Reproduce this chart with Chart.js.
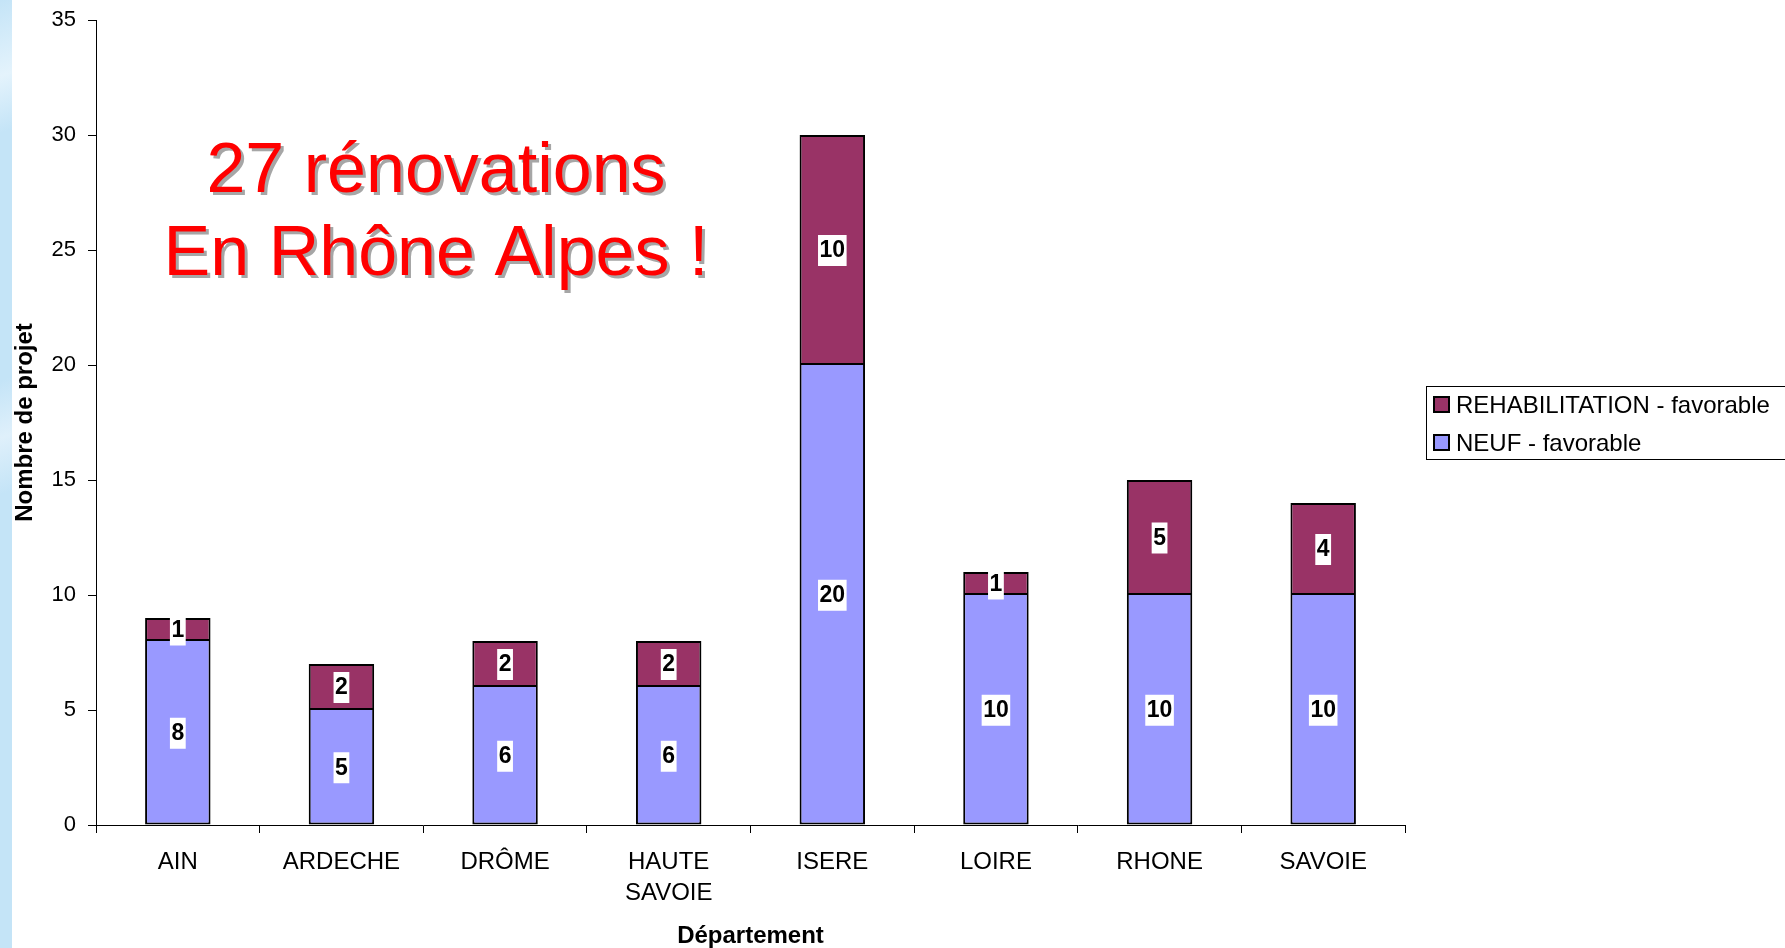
<!DOCTYPE html>
<html>
<head>
<meta charset="utf-8">
<script src="https://cdn.jsdelivr.net/npm/chart.js@4/dist/chart.umd.min.js"></script>
<style>
  body { margin: 0; background: #ffffff; }
  #wrap { position: relative; width: 1785px; height: 948px; }
  #strip {
    position: absolute; left: 0; top: 0; width: 12px; height: 948px;
    background: linear-gradient(160deg, #c4e4f7 0%, #e4f3fc 8%, #c4e4f7 14%, #c4e4f7 40%, #dff0fb 46%, #c4e4f7 52%, #c4e4f7 100%);
  }
  canvas { position: absolute; left: 0; top: 0; }
</style>
</head>
<body>
<div id="wrap">
  <div id="strip"></div>
  <canvas id="chart" width="1785" height="948"></canvas>
</div>
<script>
const departements = [
  "AIN",
  "ARDECHE",
  "DRÔME",
  ["HAUTE", "SAVOIE"],
  "ISERE",
  "LOIRE",
  "RHONE",
  "SAVOIE"
];

const neuf = [8, 5, 6, 6, 20, 10, 10, 10];
const rehabilitation = [1, 2, 2, 2, 10, 1, 5, 4];

const yTicks = [0, 5, 10, 15, 20, 25, 30, 35];

const FONT = "'Liberation Sans', Arial, sans-serif";

// value boxes in the middle of every segment
const valueLabels = {
  id: "valueLabels",
  afterDatasetsDraw(chart) {
    const c = chart.ctx;
    c.save();
    c.font = "bold 23px " + FONT;
    c.textAlign = "center";
    c.textBaseline = "middle";
    chart.data.datasets.forEach((ds, i) => {
      chart.getDatasetMeta(i).data.forEach((bar, j) => {
        const txt = String(ds.data[j]);
        const cy = (bar.y + bar.base) / 2;
        const w = c.measureText(txt).width + 3;
        c.fillStyle = "#ffffff";
        c.fillRect(bar.x - w / 2, cy - 15, w, 31);
        c.fillStyle = "#000000";
        c.fillText(txt, bar.x, cy + 1);
      });
    });
    c.restore();
  }
};

// big red headline inside the plot
const headline = {
  id: "headline",
  afterDraw(chart) {
    const c = chart.ctx;
    c.save();
    c.font = "70px " + FONT;
    c.textAlign = "center";
    c.textBaseline = "middle";
    const lines = [["27 rénovations", 173], ["En Rhône Alpes !", 256]];
    lines.forEach(([t, y]) => {
      c.fillStyle = "#a6a6a6";
      c.fillText(t, 439, y + 3);
      c.fillStyle = "#ff0000";
      c.fillText(t, 436, y);
    });
    c.restore();
  }
};

// boxed legend on the right, top entry = top segment
const sideLegend = {
  id: "sideLegend",
  afterDraw(chart) {
    const c = chart.ctx;
    c.save();
    c.strokeStyle = "#000000";
    c.lineWidth = 1;
    c.strokeRect(1426.5, 386.5, 400, 73);
    c.font = "24px " + FONT;
    c.textBaseline = "middle";
    const items = chart.data.datasets.slice().reverse();
    items.forEach((ds, k) => {
      const y = 405 + k * 38;
      c.fillStyle = ds.backgroundColor;
      c.fillRect(1434, y - 8, 15, 15);
      c.lineWidth = 2;
      c.strokeRect(1434, y - 8, 15, 15);
      c.fillStyle = "#000000";
      c.fillText(ds.label, 1456, y + 1);
    });
    c.restore();
  }
};

new Chart(document.getElementById("chart").getContext("2d"), {
  type: "bar",
  data: {
    labels: departements,
    datasets: [
      {
        label: "NEUF - favorable",
        data: neuf,
        backgroundColor: "#9999ff",
        borderColor: "#000000",
        borderWidth: 2,
        borderSkipped: "top"
      },
      {
        label: "REHABILITATION - favorable",
        data: rehabilitation,
        backgroundColor: "#993366",
        borderColor: "#000000",
        borderWidth: 2,
        borderSkipped: false
      }
    ]
  },
  options: {
    responsive: false,
    animation: false,
    layout: {
      padding: { top: 20, right: 380, bottom: 0, left: 0 }
    },
    datasets: {
      bar: { barPercentage: 0.4, categoryPercentage: 1 }
    },
    plugins: {
      legend: { display: false },
      tooltip: { enabled: false }
    },
    scales: {
      x: {
        stacked: true,
        afterFit(scale) {
          scale.height = 123;
          scale.paddingLeft = 0;
          scale.paddingRight = 0;
        },
        border: { color: "#000000", width: 1 },
        grid: {
          offset: true,
          drawOnChartArea: false,
          tickLength: 8,
          color: "#000000"
        },
        ticks: {
          color: "#000000",
          padding: 14,
          font: { family: FONT, size: 24, lineHeight: 1.3 },
          maxRotation: 0
        },
        title: {
          display: true,
          text: "Département",
          color: "#000000",
          font: { family: FONT, size: 24, weight: "bold", lineHeight: 1 },
          padding: { top: 0, bottom: 0 }
        }
      },
      y: {
        stacked: true,
        min: 0,
        max: 35,
        afterFit(scale) {
          scale.width = 96;
          scale.paddingTop = 0;
          scale.paddingBottom = 0;
        },
        afterBuildTicks(scale) {
          scale.ticks = yTicks.map(v => ({ value: v }));
        },
        border: { color: "#000000", width: 1 },
        grid: {
          drawOnChartArea: false,
          tickLength: 8,
          color: "#000000"
        },
        ticks: {
          color: "#000000",
          padding: 12,
          font: { family: FONT, size: 22 }
        },
        title: {
          display: true,
          text: "Nombre de projet",
          color: "#000000",
          font: { family: FONT, size: 24, weight: "bold", lineHeight: 1 },
          padding: { top: 13, bottom: 0 }
        }
      }
    }
  },
  plugins: [valueLabels, headline, sideLegend]
});
</script>
</body>
</html>
